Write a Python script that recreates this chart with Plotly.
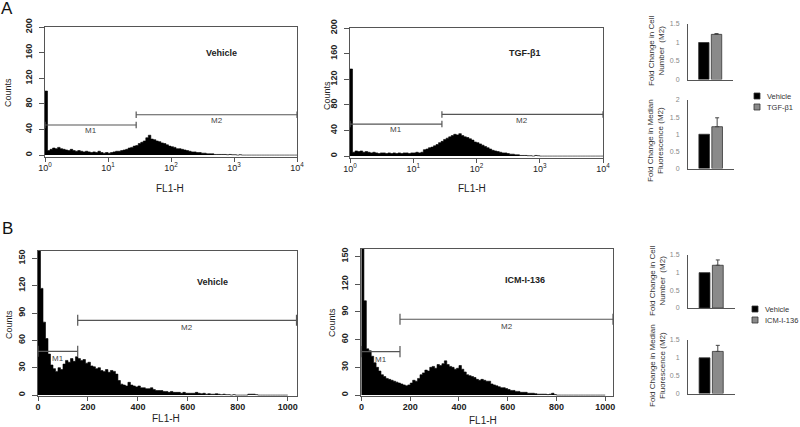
import numpy as np
import plotly.graph_objects as go

# ---------------- data ----------------
# Panel A: log-scale FL1-H histograms (equal-width bins over 10^0..10^4)
a_vehicle_counts = [100, 7, 9, 11, 10, 12, 10, 9,
                    8, 7, 9, 7, 6, 7, 6, 5,
                    6, 5, 4, 5, 4, 6, 4, 3, 4,
                    3, 4, 5, 6, 6,
                    7, 8, 9, 11, 12, 14, 15, 18,
                    20, 22, 27, 31, 25,
                    24, 22, 21, 19, 18, 16, 14,
                    13, 12, 10, 10, 9,
                    8, 7, 6, 5, 5,
                    4, 4, 3, 3, 2,
                    2, 2, 1, 1, 1,
                    1, 1, 0.5, 1, 0.5,
                    0.5, 0, 0.5, 0, 0,
                    0, 0, 0, 0, 0, 0, 0, 0, 0, 0,
                    0, 0, 0, 0, 0, 0, 0, 0, 0, 0]
a_tgf_counts = [136, 6, 8, 7, 8, 6, 7, 6,
                5, 6, 5, 4, 5, 5, 4, 5,
                4, 5, 4, 5, 4, 5, 5, 4, 5,
                5, 6, 5, 6,
                10, 11, 13, 14, 16, 18,
                21, 23, 26, 28,
                30, 32, 34, 33, 35,
                32, 30, 29, 27,
                25, 22, 21, 19, 17,
                15, 13, 11, 9,
                8, 7, 6, 5,
                5, 4, 3, 3,
                2, 2, 1, 1,
                1, 0.5, 0.5, 0, 1, 0.5,
                0, 0, 0, 0, 0, 0, 0, 0, 0, 0,
                0, 0, 0, 0, 0, 0, 0, 0, 0, 0,
                0, 0, 0, 0, 0]
a_log_decades = [0, 4]

# Panel B: linear FL1-H histograms (10-unit channels 0..1000)
b_vehicle_counts = [200, 117, 80, 62, 45, 33, 29, 26, 30, 28,
                    34, 38, 36, 40, 37, 42, 40, 38, 39, 35,
                    36, 32, 31, 29, 30, 27, 26, 28, 25, 27,
                    26, 23, 16, 12, 11, 10, 14, 11, 10, 9,
                    10, 8, 8, 7, 7, 8, 6, 5, 5, 5,
                    4, 4, 3, 4, 3, 3, 3, 2, 3, 2,
                    2, 2, 2, 3, 2, 1.5, 2, 1, 1.5, 1,
                    1, 1.5, 1, 0.5, 1, 0.5, 0.5, 0, 0.5, 0,
                    0, 0, 0, 0, 1, 1, 1, 0.5, 0, 0,
                    0, 0, 0, 0, 0, 0, 0, 0, 0, 0]
b_icm_counts = [200, 102, 50, 48, 42, 35, 30, 26, 22, 20,
                18, 17, 16, 15, 14, 13, 12, 11, 10, 11,
                13, 16, 15, 18, 22, 24, 27, 26, 30, 31,
                29, 33, 32, 34, 37, 33, 31, 30, 28, 29,
                32, 28, 25, 22, 21, 20, 19, 17, 16, 17,
                16, 15, 15, 12, 11, 10, 9, 8, 8, 7,
                6, 5, 5, 4, 4, 3, 3, 3, 2, 2,
                2, 1.5, 1, 1, 1, 1, 0.5, 1, 2, 0.5,
                0, 0, 0, 0, 0, 0, 0, 0, 0, 0,
                0, 0, 0, 0, 0, 0, 0, 0, 0, 0]
b_channel_range = [0, 1000]

# Marker gates: [start, boundary, end] and levels [M1, M2]
gate_x_a_vehicle = [1, 28, 10000]
gate_y_a_vehicle = [47, 63]
gate_x_a_tgf = [1, 28.4, 10000]
gate_y_a_tgf = [50, 65]
gate_x_b_vehicle = [0, 159, 1035]
gate_y_b_vehicle = [48, 82]
gate_x_b_icm = [0, 158, 1032]
gate_y_b_icm = [47, 82]

# Summary bar charts
groups_a = ["Vehicle", "TGF-β1"]
cell_number_a = [1.0, 1.22]
cell_number_a_err = [0, 0.02]
median_fl_a = [1.0, 1.22]
median_fl_a_err = [0, 0.26]
groups_b = ["Vehicle", "ICM-I-136"]
cell_number_b = [1.0, 1.21]
cell_number_b_err = [0, 0.15]
median_fl_b = [1.0, 1.18]
median_fl_b_err = [0, 0.17]

log_ticks = [1, 10, 100, 1000, 10000]
log_ticktext = ["10<sup>0</sup>", "10<sup>1</sup>", "10<sup>2</sup>", "10<sup>3</sup>", "10<sup>4</sup>"]
a_yticks = [0, 40, 80, 120, 160, 200]
b_yticks = [0, 30, 60, 90, 120, 150]
lin_ticks = [0, 200, 400, 600, 800, 1000]

# ---------------- layout helpers ----------------
W, H = 800, 427
FONT = "Liberation Sans, Arial, sans-serif"
def px(x):
    return x / W
def py(y):
    return 1 - y / H

fig = go.Figure()

def hist(counts, edges, xa, ya):
    y = list(counts) + [counts[-1]]
    fig.add_trace(go.Scatter(x=list(edges), y=y, mode="lines", line_shape="hv",
                             line=dict(color="black", width=0.6), fill="tozeroy",
                             fillcolor="black", xaxis=xa, yaxis=ya, showlegend=False,
                             hoverinfo="skip"))

def gates(gx, gy, xa, ya, dy):
    xs, ys = [], []
    xs += [gx[0], gx[1], None, gx[0], gx[0], None, gx[1], gx[1], None]
    ys += [gy[0], gy[0], None, gy[0] - dy, gy[0] + dy, None, gy[0] - dy, gy[0] + dy, None]
    xs += [gx[1], gx[2], None, gx[1], gx[1], None, gx[2], gx[2], None]
    ys += [gy[1], gy[1], None, gy[1] - dy, gy[1] + dy, None, gy[1] - dy, gy[1] + dy, None]
    fig.add_trace(go.Scatter(x=xs, y=ys, mode="lines", line=dict(color="#555", width=1.2),
                             xaxis=xa, yaxis=ya, showlegend=False, hoverinfo="skip"))

edges_a1 = 10 ** np.linspace(a_log_decades[0], a_log_decades[1], len(a_vehicle_counts) + 1)
edges_a2 = 10 ** np.linspace(a_log_decades[0], a_log_decades[1], len(a_tgf_counts) + 1)
edges_b1 = np.linspace(b_channel_range[0], b_channel_range[1], len(b_vehicle_counts) + 1)
edges_b2 = np.linspace(b_channel_range[0], b_channel_range[1], len(b_icm_counts) + 1)

hist(a_vehicle_counts, edges_a1, "x", "y")
gates(gate_x_a_vehicle, gate_y_a_vehicle, "x", "y", 5)
hist(a_tgf_counts, edges_a2, "x2", "y2")
gates(gate_x_a_tgf, gate_y_a_tgf, "x2", "y2", 5)
hist(b_vehicle_counts, edges_b1, "x3", "y3")
gates(gate_x_b_vehicle, gate_y_b_vehicle, "x3", "y3", 6)
hist(b_icm_counts, edges_b2, "x4", "y4")
gates(gate_x_b_icm, gate_y_b_icm, "x4", "y4", 6)

BLACK = "#000000"
GRAY = "#8a8a8a"
BAR_COLORS = [BLACK, GRAY]

def bars(groups, vals, errs, xa, ya):
    for i, (g, v, e) in enumerate(zip(groups, vals, errs)):
        fig.add_trace(go.Bar(
            x=[i], y=[v], width=0.82, name=g,
            marker=dict(color=BAR_COLORS[i], line=dict(color="#333", width=0.8)),
            error_y=dict(type="data", array=[e], arrayminus=[0], symmetric=False,
                         color="#444", thickness=1, width=2, visible=e > 0),
            xaxis=xa, yaxis=ya, showlegend=False, hoverinfo="skip"))

bars(groups_a, cell_number_a, cell_number_a_err, "x5", "y5")
bars(groups_a, median_fl_a, median_fl_a_err, "x6", "y6")
bars(groups_b, cell_number_b, cell_number_b_err, "x7", "y7")
bars(groups_b, median_fl_b, median_fl_b_err, "x8", "y8")

# ---------------- axes ----------------
tick_font = dict(family=FONT, size=9, color="#222", weight="bold")
frame = dict(showline=True, mirror=True, linecolor="#555", linewidth=1.2, showgrid=False,
             zeroline=False, ticks="outside", tickcolor="#555", tickfont=tick_font)

def hist_axes(n, xd, yd, xtype, xrange, xtickvals, xticktext, yrange, ytickvals, xfont):
    sx = "" if n == 1 else str(n)
    fig.layout["xaxis" + sx] = dict(frame, domain=[px(xd[0]), px(xd[1])], type=xtype,
                                    range=xrange, tickvals=xtickvals, ticktext=xticktext,
                                    ticklen=4, ticklabelstandoff=-2, tickfont=xfont,
                                    anchor="y" + sx)
    fig.layout["yaxis" + sx] = dict(frame, domain=[py(yd[1]), py(yd[0])], range=yrange,
                                    tickvals=ytickvals, tickangle=-90, ticklen=5,
                                    ticklabelstandoff=3, anchor="x" + sx)

log_font = dict(family=FONT, size=9, color="#222")
hist_axes(1, (45, 297), (27, 157), "log", [0, 4], log_ticks, log_ticktext, [-3, 200], a_yticks, log_font)
hist_axes(2, (350, 603), (28, 158), "log", [0, 4], log_ticks, log_ticktext, [-3, 200], a_yticks, log_font)
hist_axes(3, (38, 297), (251, 396), "linear", [0, 1037], lin_ticks, [str(v) for v in lin_ticks], [-1, 158], b_yticks, tick_font)
hist_axes(4, (361, 613), (249, 396), "linear", [-2, 1032], lin_ticks, [str(v) for v in lin_ticks], [-1, 158], b_yticks, tick_font)

bar_ax = dict(showline=True, linecolor="#555", linewidth=1, showgrid=False, zeroline=False,
              tickfont=dict(family=FONT, size=7, color="#888"))

def bar_axes(n, xd, yd, yrange, ytickvals):
    sx = str(n)
    fig.layout["xaxis" + sx] = dict(bar_ax, domain=[px(xd[0]), px(xd[1])], range=[-1.25, 2.3],
                                    showticklabels=False, ticks="", anchor="y" + sx)
    fig.layout["yaxis" + sx] = dict(bar_ax, domain=[py(yd[1]), py(yd[0])], range=yrange,
                                    tickvals=ytickvals, ticktext=[f"{v:g}" for v in ytickvals],
                                    ticks="", ticklabelstandoff=6, anchor="x" + sx)

bar_axes(5, (688, 733), (24, 79.5), [0, 1.5], [0, 0.5, 1, 1.5])
bar_axes(6, (688, 734), (100, 168.5), [0, 2], [0, 0.5, 1, 1.5, 2])
bar_axes(7, (688, 735), (255, 308), [0, 1.5], [0, 0.5, 1, 1.5])
bar_axes(8, (688, 735), (340, 393.5), [0, 1.5], [0, 0.5, 1, 1.5])

# ---------------- annotations ----------------
ann = []
def text(x, y, s, size=9, color="#222", bold=False, angle=0, xref="paper", yref="paper",
         xanchor="center", yanchor="middle"):
    ann.append(dict(x=x, y=y, xref=xref, yref=yref, text=f"<b>{s}</b>" if bold else s,
                    showarrow=False, textangle=angle, xanchor=xanchor, yanchor=yanchor,
                    font=dict(family=FONT, size=size, color=color)))

text(px(7), py(8), "A", size=17, color="#111")
text(px(7), py(228), "B", size=17, color="#111")

for (cx, cy) in [(8, 93), (327, 96), (9, 325), (332, 323)]:
    text(px(cx), py(cy), "Counts", size=9, angle=-90)
for (cx, cy) in [(170, 188), (472, 188), (166, 418), (483, 420)]:
    text(px(cx), py(cy), "FL1-H", size=10)

# Condition labels (log axes take log10 positions)
text(2.8, 159, "Vehicle", size=9, bold=True, xref="x", yref="y")
text(2.77, 161, "TGF-β1", size=9, bold=True, xref="x2", yref="y2")
text(700, 124, "Vehicle", size=9, bold=True, xref="x3", yref="y3")
text(670, 124, "ICM-I-136", size=9, bold=True, xref="x4", yref="y4")

def gate_labels(gx, gy, xa, ya, log):
    if log:
        m1 = (np.log10(gx[0]) + np.log10(gx[1])) / 2
        m2 = (np.log10(gx[1]) + np.log10(gx[2])) / 2
        off = 9
    else:
        m1 = (gx[0] + gx[1]) / 2
        m2 = (gx[1] + gx[2]) / 2
        off = 8
    text(m1, gy[0] - off, "M1", size=8, color="#444", xref=xa, yref=ya)
    text(m2, gy[1] - off, "M2", size=8, color="#444", xref=xa, yref=ya)

gate_labels(gate_x_a_vehicle, gate_y_a_vehicle, "x", "y", True)
gate_labels(gate_x_a_tgf, gate_y_a_tgf, "x2", "y2", True)
gate_labels(gate_x_b_vehicle, gate_y_b_vehicle, "x3", "y3", False)
gate_labels(gate_x_b_icm, gate_y_b_icm, "x4", "y4", False)

text(px(656), py(51), "Fold Change in Cell<br>Number  (M2)", size=8, color="#333", angle=-90)
text(px(656), py(141), "Fold Change in Median<br>Fluorescence (M2)", size=8, color="#333", angle=-90)
text(px(657), py(281), "Fold Change in Cell<br>Number  (M2)", size=8, color="#333", angle=-90)
text(px(657), py(366), "Fold Change in Median<br>Fluorescence (M2)", size=8, color="#333", angle=-90)

# Legends for the bar charts (square key + label)
shapes = []
def legend_block(groups, x_sq, y_first, dy):
    for i, g in enumerate(groups):
        yc = y_first + i * dy
        shapes.append(dict(type="rect", xref="paper", yref="paper",
                           x0=px(x_sq - 3), x1=px(x_sq + 3), y0=py(yc + 3), y1=py(yc - 3),
                           fillcolor=BAR_COLORS[i], line=dict(color="#333", width=0.8)))
        text(px(x_sq + 8), py(yc), g, size=7.5, color="#333", xanchor="left")

legend_block(groups_a, 757, 96, 11)
legend_block(groups_b, 755, 309, 11)

fig.update_layout(
    width=W, height=H, margin=dict(l=0, r=0, t=0, b=0, autoexpand=False),
    paper_bgcolor="white", plot_bgcolor="white",
    font=dict(family=FONT, size=9, color="#222"),
    annotations=ann, shapes=shapes,
    barmode="overlay", showlegend=False,
)

fig.write_html("out.html", config={"displayModeBar": False},
               post_script="document.body.style.margin='0';document.body.style.overflow='hidden';")
